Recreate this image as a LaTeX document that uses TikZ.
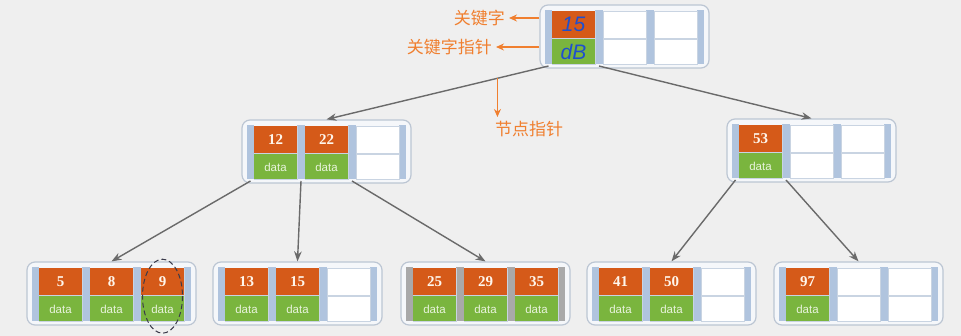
\documentclass[tikz,border=0pt]{standalone}
\usepackage{fontspec}
\setmainfont{Liberation Serif}
\setsansfont{Liberation Sans}
\newfontfamily\cjk{Noto Sans CJK SC}
\usepackage{xcolor}
\usepackage{tikz}
\usetikzlibrary{arrows.meta,positioning}
\definecolor{pageBg}{HTML}{EFEFEF}
\definecolor{boxFill}{HTML}{F5F7FA}
\definecolor{boxLine}{HTML}{BCC6D3}
\definecolor{keyOrange}{HTML}{D55A19}
\definecolor{keyText}{HTML}{FFF6EC}
\definecolor{dataGreen}{HTML}{7AB53E}
\definecolor{dataText}{HTML}{E8F3DC}
\definecolor{barBlue}{HTML}{B0C4DE}
\definecolor{barGray}{HTML}{A9A9A9}
\definecolor{cellLine}{HTML}{C9D4E2}
\definecolor{ptrGray}{HTML}{6A6A6A}
\definecolor{noteOrange}{HTML}{F07F2F}
\definecolor{penBlue}{HTML}{1E4FCF}
\definecolor{ringGray}{HTML}{3A3A4A}

\tikzset{
  bbox/.style={draw=boxLine, line width=1.2pt, rounded corners=8pt, fill=boxFill,
    minimum width=169, minimum height=63, inner sep=0pt},
  keycell/.style={fill=keyOrange, minimum width=43, minimum height=27, inner sep=0pt},
  datacell/.style={fill=dataGreen, minimum width=43, minimum height=25, inner sep=0pt},
  printed/.style={text=keyText, font=\bfseries\fontsize{15}{15}\selectfont},
  printedsmall/.style={text=dataText, font=\sffamily\fontsize{11.5}{11.5}\selectfont},
  pen/.style={text=penBlue, font=\sffamily\itshape\fontsize{21}{21}\selectfont},
  pensmall/.style={pen},
  emptycell/.style={draw=cellLine, fill=white, line width=0.8pt},
  ptr/.style={draw=ptrGray, line width=1.4pt, -{Stealth[length=10pt,width=7.5pt]}},
  note/.style={draw=noteOrange, line width=1.6pt, -{Stealth[length=8pt,width=7pt]}},
  notetext/.style={text=noteOrange, font=\cjk\fontsize{17}{17}\selectfont, inner sep=4pt},
  hlring/.style={draw=ringGray, dash pattern=on 5pt off 3pt, line width=1pt}
}

\begin{document}
\begin{tikzpicture}[x=1pt,y=-1pt]
    \useasboundingbox (0,0) rectangle (961,336);
    \fill[pageBg] (0,0) rectangle (961,336);
    % tree nodes: name / left / top / bar colour / text style / data text / keys
    \foreach \n/\x/\y/\bc/\ts/\dt/\ks in {root/540/5/barBlue/pen/dB/{15},
        innerL/242/120/barBlue/printed/data/{12,22},
        innerR/727/119/barBlue/printed/data/{53},
        leafA/27/262/barBlue/printed/data/{5,8,9},
        leafB/213/262/barBlue/printed/data/{13,15},
        leafC/401/262/barGray/printed/data/{25,29,35},
        leafD/587/262/barBlue/printed/data/{41,50},
        leafE/774/262/barBlue/printed/data/{97}} {
        \node[bbox] (\n) at (\x+84.5,\y+31.5) {};
        \foreach \o/\w [count=\j from 0] in {5/7,55/8,106/8,157/7} {
            \fill[\bc] (\x+\o,\y+5) rectangle ++(\w,54);
            \coordinate (\n-p\j) at (\x+\o+\w/2,\y+61);
        }
        \foreach \o in {12,63,114} {
            \draw[emptycell] (\x+\o,\y+6) rectangle ++(43,27);
            \draw[emptycell] (\x+\o,\y+34) rectangle ++(43,25);
        }
        \foreach \k [count=\i] in \ks {
            \node[keycell, \ts] (\n-k\i) at (\x+51*\i-17.5,\y+19.5) {\k};
            \node[datacell, \ts small, below=1pt of \n-k\i] (\n-d\i) {\dt};
        }
    }

    % pointers
    \draw[ptr] (root-p0) -- coordinate[pos=0.23] (np) (innerL.north);
    \draw[ptr] (root-p1) -- (innerR.north);
    \draw[ptr] (innerL-p0) -- (leafA.north);
    \draw[ptr] (innerL-p1) -- (leafB.north);
    \draw[ptr] (innerL-p2) -- (leafC.north);
    \draw[ptr] (innerR-p0) -- (leafD.north);
    \draw[ptr] (innerR-p1) -- (leafE.north);

    % notes
    \node[notetext, anchor=east] (kw) at (509,18) {关键字};
    \node[notetext, anchor=east] (kwp) at (496,47) {关键字指针};
    \node[notetext, anchor=west] (nptr) at (491,129) {节点指针};
    \draw[note] (kw.east -| root.west) -- (kw.east);
    \draw[note] (kwp.east -| root.west) -- (kwp.east);
    \draw[note] (np) -- (np |- nptr.north);

    % circled entry
    \draw[hlring] (leafA-d3.north) ellipse [x radius=20, y radius=37];
\end{tikzpicture}
\end{document}
